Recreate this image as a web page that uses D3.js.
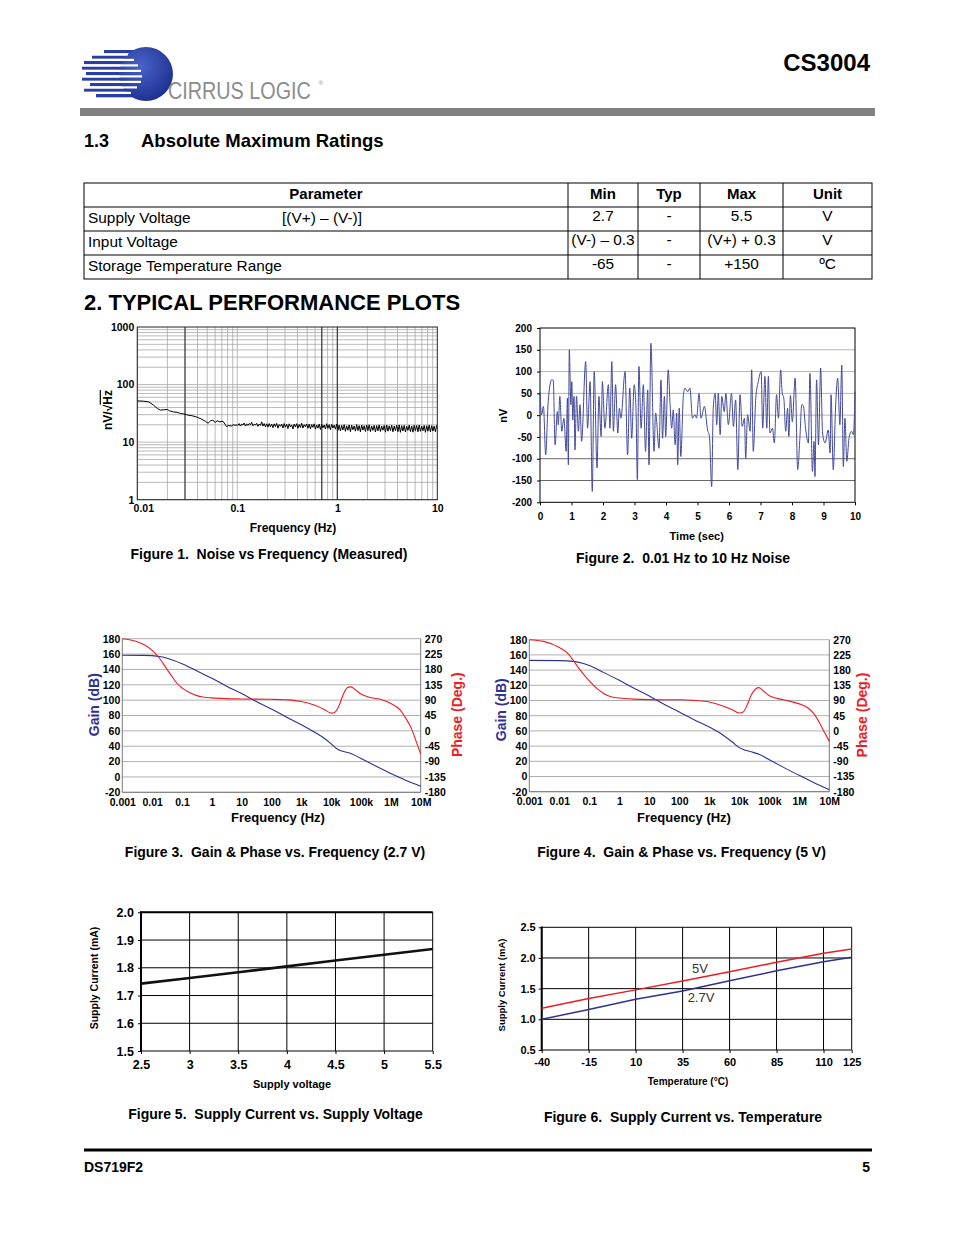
<!DOCTYPE html>
<html><head><meta charset="utf-8">
<script src="https://cdn.jsdelivr.net/npm/d3@7"></script>
<style>
body{margin:0;background:#fff}
svg{display:block}
text{font-family:"Liberation Sans",Arial,Helvetica,sans-serif}
</style>
</head><body>
<svg id="page" width="954" height="1235"></svg>
<script>
// ---------------- DATA ----------------
const tableHeader = ["Parameter","Min","Typ","Max","Unit"];
const tableParams = ["Supply Voltage","Input Voltage","Storage Temperature Range"];
const tableCond   = ["[(V+) – (V-)]","",""];
const tableMin    = ["2.7","(V-) – 0.3","-65"];
const tableTyp    = ["-","-","-"];
const tableMax    = ["5.5","(V+) + 0.3","+150"];
const tableUnit   = ["V","V","ºC"];

// Figure 1: noise density (nV/rtHz) vs frequency
const fig1YTicks = [1,10,100,1000];
const fig1XTicks = [0.01,0.1,1,10];
const fig1XLabels = ["0.01","0.1","1","10"];
const fig1Low = [[0.01,52],[0.0115,51.5],[0.013,50],[0.0145,44],[0.016,38],[0.017,36],[0.0185,36.5],[0.02,37],
  [0.021,35],[0.023,33.5],[0.025,33],[0.027,31.5],[0.029,31],[0.032,29.5],[0.036,28.5],[0.04,27],[0.044,25],
  [0.048,23],[0.051,21.3],[0.054,23.5],[0.057,24],[0.06,22],[0.063,23.5],[0.067,22.5],[0.072,23],[0.076,20],
  [0.078,18.6],[0.082,19.5],[0.087,19],[0.091,20],[0.095,19.6],[0.1,20]];
const fig1Band = [
  19.5,21,19,20.5,19.8,21.5,19,20.8,19.5,21,20,22,19.2,20.5,19.8,21.2,18.8,20.6,19.5,22.5,19,21,18.5,20.8,
  18.2,21,18.5,20.5,17.8,20.8,18.6,21.2,17.5,20.2,18.8,20.6,17.6,21,18.2,20.4,17.2,20.8,18.4,19.9,17,20.6,18.3,20.9,17.4,20.3,18,21.3,17.6,20.1,18.5,20.7,
  17.4,20.5,17,20.2,18.1,20.8,16.8,19.9,17.5,20.6,16.6,20.3,17.8,19.8,16.9,20.9,17.3,20.1,16.4,20.4,17.6,19.7,16.8,20.5,
  16,19.8,15.6,19.5,16.3,20.1,15.4,19.2,16.1,19.9,15.2,19.6,16.4,19.1,15.5,20.2,15.9,19.4,15.1,19.8,16.2,19.3,15.3,19.7,
  15.8,20,15.2,19.1,16,19.6,15,19.4,15.7,19.9,15.3,18.9,16.1,19.5,14.9,19.8,15.5,19.2,15.9,19.7,15.1,19,15.8,19.6,15.2,19.9,
  14.8,19.3,15.6,19.5,15,18.8,16,19.7,15.2,19.1,14.9,19.6,15.7,19.4,15.1,19.8,15.4,18.9,15.8,19.5,14.8,19.2,15.5,19.7,15,19.3,15.6,19,15.2,19.6];

// Figure 2: time-domain noise (sec, nV)
const fig2YTicks = [-200,-150,-100,-50,0,50,100,150,200];
const fig2XTicks = [0,1,2,3,4,5,6,7,8,9,10];
const fig2Noise = [[0,53],[0.05,1],[0.11,20],[0.18,-91],[0.26,31],[0.37,81],[0.42,80],[0.48,-68],[0.55,8],[0.58,-22],
  [0.63,43],[0.69,-37],[0.76,-7],[0.83,-83],[0.87,39],[0.9,-114],[0.93,150],[0.98,24],[1.01,77],[1.04,-11],[1.08,43],
  [1.11,-80],[1.16,43],[1.22,-37],[1.27,24],[1.32,-60],[1.45,123],[1.51,-30],[1.59,77],[1.66,-175],[1.72,100],[1.81,-121],
  [1.87,43],[1.94,-49],[1.98,77],[2.06,-30],[2.17,70],[2.22,-30],[2.28,123],[2.33,-37],[2.4,70],[2.47,-41],[2.52,16],
  [2.57,-7],[2.7,100],[2.78,-91],[2.85,62],[2.91,-53],[2.99,70],[3.05,8],[3.09,-148],[3.14,112],[3.21,-30],[3.28,70],
  [3.35,-83],[3.42,58],[3.46,-114],[3.52,165],[3.62,-83],[3.67,5],[3.78,-76],[3.84,81],[3.89,-53],[3.95,43],[3.99,-49],
  [4.07,104],[4.13,24],[4.18,-30],[4.23,12],[4.29,-68],[4.34,5],[4.37,-114],[4.42,16],[4.47,-95],[4.55,43],[4.6,62],
  [4.69,54],[4.76,62],[4.84,-7],[4.92,1],[4.97,-7],[5.05,50],[5.11,-7],[5.22,20],[5.32,-34],[5.38,-49],[5.45,-164],
  [5.5,16],[5.56,50],[5.61,-22],[5.66,50],[5.72,-45],[5.77,43],[5.85,8],[5.9,50],[5.98,-22],[6.08,50],[6.14,-26],
  [6.21,35],[6.28,-125],[6.35,47],[6.42,-26],[6.49,-7],[6.53,-99],[6.59,1],[6.67,-37],[6.72,104],[6.77,-83],[6.85,39],
  [6.93,77],[7.02,100],[7.07,-30],[7.14,89],[7.2,-30],[7.25,89],[7.3,-41],[7.38,-30],[7.44,-64],[7.51,47],[7.57,-7],
  [7.64,104],[7.69,50],[7.74,39],[7.8,-37],[7.86,16],[7.9,-49],[7.95,45],[8.01,-15],[8.1,85],[8.18,-125],[8.25,-53],
  [8.31,24],[8.36,22],[8.43,-30],[8.52,-64],[8.57,96],[8.65,-129],[8.7,-60],[8.73,-141],[8.78,81],[8.84,-68],[8.91,108],
  [8.97,-41],[9.05,-64],[9.15,-34],[9.21,-87],[9.24,47],[9.31,-125],[9.39,31],[9.45,85],[9.52,-22],[9.58,115],[9.63,-118],
  [9.68,-7],[9.74,-106],[9.81,-53],[9.89,-37],[9.95,-45],[10,54]];

// Figures 3 & 4: Bode plots
const bodeFreqTicks = [0.001,0.01,0.1,1,10,100,1e3,1e4,1e5,1e6,1e7];
const bodeFreqLabels = ["0.001","0.01","0.1","1","10","100","1k","10k","100k","1M","10M"];
const gainTicks = [-20,0,20,40,60,80,100,120,140,160,180];
const phaseTicks = [-180,-135,-90,-45,0,45,90,135,180,225,270];
const gain27 = [[0.001,158.5],[0.005,158.3],[0.01,158],[0.02,156.5],[0.05,152],[0.1,147.5],[0.3,138.5],[1,128.5],
  [3,118.5],[10,108.5],[30,98.5],[100,88.5],[300,78.5],[1000,68],[3000,57.5],[6000,50],[10000,43],[15000,37],
  [20000,34.5],[30000,32.5],[50000,30],[100000,24],[300000,14.5],[1e6,4.5],[3e6,-4],[1e7,-12]];
const phase27 = [[0.001,270],[0.003,262],[0.006,250],[0.01,236],[0.015,220],[0.02,206],[0.03,183],[0.05,155],
  [0.07,138],[0.1,126],[0.2,110],[0.3,104],[0.5,99],[1,96.5],[3,94.5],[10,93.5],[100,92.5],[300,91],[1000,86],
  [3000,74],[6000,62],[10000,52],[13000,54],[18000,72],[25000,105],[35000,127],[45000,129],[70000,118],
  [100000,108],[200000,98],[500000,91],[1e6,80],[2e6,62],[3e6,40],[5e6,5],[7e6,-30],[1e7,-68]];
const gain5 = [[0.001,152.8],[0.01,152.5],[0.03,151.5],[0.06,149],[0.1,146],[0.3,137],[1,126.5],[3,116.5],
  [10,106],[30,95.5],[100,85],[300,75],[1000,65],[3000,54],[6000,45],[10000,38],[15000,35],[25000,32.5],
  [50000,28.5],[100000,22],[300000,12],[1e6,1.5],[3e6,-8],[1e7,-17.5]];
const phase5 = [[0.001,270],[0.003,265],[0.01,247],[0.02,228],[0.03,207],[0.05,180],[0.1,148],[0.2,122],
  [0.3,111],[0.5,102],[1,97.5],[3,94],[10,92.5],[100,92],[300,90.5],[1000,85.5],[3000,73],[6000,62],[10000,53],
  [13000,55],[18000,75],[25000,106],[35000,124],[45000,128],[70000,115],[100000,104],[300000,92],[1e6,80],
  [2e6,67],[3e6,52],[5e6,20],[7e6,-5],[1e7,-31]];

// Figure 5: supply current vs supply voltage
const fig5Volt = [2.5,3,3.5,4,4.5,5,5.5];
const fig5Curr = [1.743,1.763,1.784,1.805,1.826,1.847,1.868];
const fig5YTicks = [1.5,1.6,1.7,1.8,1.9,2.0];

// Figure 6: supply current vs temperature
const fig6Temp = [-40,-15,10,35,60,85,110,125];
const fig6Curr5V = [1.18,1.34,1.48,1.625,1.777,1.93,2.076,2.147];
const fig6Curr27V = [1.0,1.16,1.326,1.46,1.63,1.79,1.94,2.01];
const fig6YTicks = [0.5,1.0,1.5,2.0,2.5];

// ---------------- DRAWING ----------------
const svg = d3.select("#page");
const BLUE = "#2e3192", RED = "#ed1c24";

function txt(x, y, s, o = {}) {
  const t = svg.append("text").attr("x", x).attr("y", y).text(s)
    .attr("font-size", o.size || 12)
    .attr("font-weight", o.bold ? "bold" : "normal")
    .attr("text-anchor", o.anchor || "start")
    .attr("fill", o.fill || "#000");
  if (o.rotate) t.attr("transform", `rotate(-90 ${x} ${y})`).attr("dominant-baseline", "central");
  if (o.family) t.style("font-family", o.family);
  return t;
}

// ---- Header / logo ----
const logo = svg.append("g");
const defs = svg.append("defs");
const grad = defs.append("radialGradient").attr("id","sph").attr("cx","40%").attr("cy","35%").attr("r","70%");
grad.append("stop").attr("offset","0%").attr("stop-color","#4a63c8");
grad.append("stop").attr("offset","100%").attr("stop-color","#1c2f8f");
const cx = 146, cy = 74, r = 27;
const stripeStarts = [104, 92, 84, 82, 86, 82, 90, 84, 96];
stripeStarts.forEach((s, i) => {
  const y = 50 + i * 5.5;
  logo.append("rect").attr("x", s).attr("y", y).attr("width", cx - s).attr("height", 3.3).attr("fill", "#2a3fa6");
});
logo.append("circle").attr("cx", cx).attr("cy", cy).attr("r", r).attr("fill", "url(#sph)");
const gapEnds = [128, 134, 138, 141, 142, 141, 137, 131];
gapEnds.forEach((e, i) => {
  const y = 53.3 + i * 5.5;
  logo.append("rect").attr("x", 80).attr("y", y).attr("width", e - 80).attr("height", 2.2).attr("fill", "#fff");
});
svg.append("text").attr("x", 0).attr("y", 0).attr("transform", "translate(168,99) scale(0.86,1)")
  .attr("font-size", 23).attr("fill", "#8c8c8c").text("CIRRUS LOGIC");
txt(318.5, 85, "®", {size: 6, fill: "#8c8c8c"});
txt(870, 71, "CS3004", {size: 24, bold: true, anchor: "end"});
svg.append("rect").attr("x", 80).attr("y", 108).attr("width", 795).attr("height", 8).attr("fill", "#808080");

// ---- Section 1.3 ----
txt(84, 147, "1.3", {size: 18, bold: true});
txt(141, 147, "Absolute Maximum Ratings", {size: 18.5, bold: true});

// ---- Table ----
const colX = [84, 568, 638, 700, 783, 872];
const rowY = [183, 207, 231, 255, 279];
const tb = svg.append("g");
tb.append("rect").attr("x", colX[0]).attr("y", rowY[0]).attr("width", colX[5]-colX[0]).attr("height", rowY[4]-rowY[0])
  .attr("fill", "none").attr("stroke", "#000").attr("stroke-width", 1);
colX.slice(1, 5).forEach(x => tb.append("line").attr("x1", x).attr("x2", x).attr("y1", rowY[0]).attr("y2", rowY[4]).attr("stroke", "#000"));
rowY.slice(1, 4).forEach(y => tb.append("line").attr("x1", colX[0]).attr("x2", colX[5]).attr("y1", y).attr("y2", y).attr("stroke", "#000"));
tableHeader.forEach((h, i) => txt((colX[i] + colX[i+1]) / 2, 199, h, {size: 15, bold: true, anchor: "middle"}));
const cols = [tableMin, tableTyp, tableMax, tableUnit];
tableParams.forEach((p, r) => {
  const by = rowY[r+1] + 16;
  txt(88, by, p, {size: 15.4});
  if (tableCond[r]) txt(282, by, tableCond[r], {size: 15.4});
  cols.forEach((c, j) => txt((colX[j+1] + colX[j+2]) / 2, by - 2, c[r], {size: 15.4, anchor: "middle"}));
});

// ---- Section 2 ----
txt(84, 310, "2. TYPICAL PERFORMANCE PLOTS", {size: 22, bold: true});

function styleAxis(g, size) {
  g.select(".domain").remove();
  g.selectAll("text").attr("font-size", size).attr("font-weight", "bold").attr("fill", "#000")
    .style("font-family", "'Liberation Sans',Arial,sans-serif");
  g.selectAll(".tick line").attr("stroke", "#000");
}
const SP = "\u00a0 ";

// ---- Figure 1 ----
(function () {
  const x = d3.scaleLog().domain([0.01, 10]).range([137.3, 437.3]);
  const y = d3.scaleLog().domain([1, 1000]).range([499.7, 327]);
  const g = svg.append("g");
  const vMinor = [], hMinor = [];
  [0.01, 0.1, 1].forEach(d => d3.range(1, 10).forEach(k => vMinor.push(d * k)));
  [1, 10, 100].forEach(d => d3.range(1, 10).forEach(k => hMinor.push(d * k)));
  g.selectAll(".hm").data(hMinor).join("line").attr("x1", x.range()[0]).attr("x2", x.range()[1])
    .attr("y1", d => y(d)).attr("y2", d => y(d)).attr("stroke", "#a8a8a8").attr("stroke-width", 0.8);
  g.selectAll(".vm").data(vMinor).join("line").attr("y1", y.range()[0]).attr("y2", y.range()[1])
    .attr("x1", d => x(d)).attr("x2", d => x(d)).attr("stroke", "#a8a8a8").attr("stroke-width", 0.8);
  g.selectAll(".vd").data([0.03, 0.7, 1]).join("line").attr("y1", y.range()[0]).attr("y2", y.range()[1])
    .attr("x1", d => x(d)).attr("x2", d => x(d)).attr("stroke", "#222").attr("stroke-width", 1);
  g.append("rect").attr("x", 137.3).attr("y", 327).attr("width", 300).attr("height", 172.7)
    .attr("fill", "none").attr("stroke", "#222").attr("stroke-width", 1);
  const bandF = fig1Band.map((_, i) => 0.1 * Math.pow(100, (i + 0.5) / fig1Band.length));
  const pts = fig1Low.concat(fig1Band.map((v, i) => [bandF[i], v]));
  g.append("path").datum(pts).attr("fill", "none").attr("stroke", "#000").attr("stroke-width", 1)
    .attr("d", d3.line().x(d => x(d[0])).y(d => y(d[1])));
  const ya = g.append("g").attr("transform", "translate(137.3,0)")
    .call(d3.axisLeft(y).tickValues(fig1YTicks).tickFormat(d3.format("d")).tickSize(0).tickPadding(3));
  styleAxis(ya, 10.5);
  const xa = g.append("g").attr("transform", "translate(0,499.7)")
    .call(d3.axisBottom(x).tickValues(fig1XTicks).tickFormat((d, i) => fig1XLabels[i]).tickSize(0).tickPadding(5));
  styleAxis(xa, 10.5);
  xa.selectAll(".tick text").attr("dx", (d, i) => i === 0 ? 6 : 0);
  txt(293, 532, "Frequency (Hz)", {size: 12, bold: true, anchor: "middle"});
  const yl = txt(107.7, 410, "", {size: 12, bold: true, anchor: "middle", rotate: true});
  yl.append("tspan").text("nV/√");
  yl.append("tspan").text("Hz").style("text-decoration", "overline");
  txt(269, 559, "Figure 1." + SP + "Noise vs Frequency (Measured)", {size: 14, bold: true, anchor: "middle"});
})();

// ---- Figure 2 ----
(function () {
  const x = d3.scaleLinear().domain([0, 10]).range([540, 855]);
  const y = d3.scaleLinear().domain([-200, 200]).range([502.3, 328]);
  const g = svg.append("g");
  g.selectAll(".hg").data(fig2YTicks.slice(1, -1)).join("line")
    .attr("x1", 540).attr("x2", 855).attr("y1", d => y(d)).attr("y2", d => y(d))
    .attr("stroke", d => d <= -100 ? "#6a6a6a" : "#b4b4b4").attr("stroke-width", 1);
  g.append("rect").attr("x", 540).attr("y", 328).attr("width", 315).attr("height", 174.3)
    .attr("fill", "none").attr("stroke", "#000").attr("stroke-width", 1);
  g.append("path").datum(fig2Noise).attr("fill", "none").attr("stroke", "#434a9a").attr("stroke-width", 1)
    .attr("d", d3.line().x(d => x(d[0])).y(d => y(d[1])).curve(d3.curveMonotoneX));
  const ya = g.append("g").attr("transform", "translate(540,0)")
    .call(d3.axisLeft(y).tickValues(fig2YTicks).tickFormat(d => String(d)).tickSize(3).tickPadding(5));
  styleAxis(ya, 10);
  const xa = g.append("g").attr("transform", "translate(0,502.3)")
    .call(d3.axisBottom(x).tickValues(fig2XTicks).tickFormat(d => String(d)).tickSize(3).tickPadding(8));
  styleAxis(xa, 10);
  txt(503, 415.7, "nV", {size: 11, bold: true, anchor: "middle", rotate: true});
  txt(696.7, 540, "Time (sec)", {size: 11, bold: true, anchor: "middle"});
  txt(683, 563, "Figure 2." + SP + "0.01 Hz to 10 Hz Noise", {size: 14, bold: true, anchor: "middle"});
})();

// ---- Figures 3 & 4 ----
function bode(c) {
  const x = d3.scaleLog().domain([0.001, 1e7]).range([c.x0, c.x1]);
  const yg = d3.scaleLinear().domain([-20, 180]).range([c.y1, c.y0]);
  const yp = d3.scaleLinear().domain([-180, 270]).range([c.y1, c.y0]);
  const g = svg.append("g");
  g.selectAll(".hg").data(gainTicks).join("line").attr("x1", c.x0).attr("x2", c.x1)
    .attr("y1", d => yg(d)).attr("y2", d => yg(d)).attr("stroke", "#b0b0b0").attr("stroke-width", 1);
  [c.x0, c.x1].forEach(xx => g.append("line").attr("x1", xx).attr("x2", xx).attr("y1", c.y0).attr("y2", c.y1)
    .attr("stroke", "#7a7a7a").attr("stroke-width", 1));
  g.append("line").attr("x1", c.x0).attr("x2", c.x1).attr("y1", c.y1).attr("y2", c.y1).attr("stroke", "#7a7a7a");
  g.append("path").datum(c.gain).attr("fill", "none").attr("stroke", BLUE).attr("stroke-width", 1.1)
    .attr("d", d3.line().x(d => x(d[0])).y(d => yg(d[1])).curve(d3.curveMonotoneX));
  g.append("path").datum(c.phase).attr("fill", "none").attr("stroke", RED).attr("stroke-width", 1.1)
    .attr("d", d3.line().x(d => x(d[0])).y(d => yp(d[1])).curve(d3.curveMonotoneX));
  const la = g.append("g").attr("transform", `translate(${c.x0},0)`)
    .call(d3.axisLeft(yg).tickValues(gainTicks).tickFormat(d => String(d)).tickSize(0).tickPadding(2));
  styleAxis(la, 10.5);
  const ra = g.append("g").attr("transform", `translate(${c.x1},0)`)
    .call(d3.axisRight(yp).tickValues(phaseTicks).tickFormat(d => String(d)).tickSize(0).tickPadding(4));
  styleAxis(ra, 10.5);
  const xa = g.append("g").attr("transform", `translate(0,${c.y1})`)
    .call(d3.axisBottom(x).tickValues(bodeFreqTicks).tickFormat((d, i) => bodeFreqLabels[i]).tickSize(0).tickPadding(6));
  styleAxis(xa, 10.5);
  txt(c.fx, c.fy, "Frequency (Hz)", {size: 13, bold: true, anchor: "middle"});
  txt(c.gx, c.gy, "Gain (dB)", {size: 14, bold: true, anchor: "middle", rotate: true, fill: BLUE});
  txt(c.px, c.py, "Phase (Deg.)", {size: 14, bold: true, anchor: "middle", rotate: true, fill: RED});
  txt(c.capX, 857, c.caption, {size: 14, bold: true, anchor: "middle"});
}
bode({x0: 122.3, x1: 420.7, y0: 638.7, y1: 792.3, gain: gain27, phase: phase27,
  fx: 278, fy: 821.5, gx: 94.3, gy: 704.7, px: 456.7, py: 714.7, capX: 275,
  caption: "Figure 3." + SP + "Gain & Phase vs. Frequency (2.7 V)"});
bode({x0: 529.3, x1: 829.3, y0: 639.7, y1: 791.7, gain: gain5, phase: phase5,
  fx: 684, fy: 821.5, gx: 500.7, gy: 709.7, px: 861.7, py: 715, capX: 681.5,
  caption: "Figure 4." + SP + "Gain & Phase vs. Frequency (5 V)"});

// ---- Figure 5 ----
(function () {
  const x = d3.scaleLinear().domain([2.5, 5.5]).range([141, 432.7]);
  const y = d3.scaleLinear().domain([1.5, 2.0]).range([1051, 912.3]);
  const g = svg.append("g");
  g.selectAll(".hg").data(fig5YTicks).join("line").attr("x1", 141).attr("x2", 432.7)
    .attr("y1", d => y(d)).attr("y2", d => y(d)).attr("stroke", "#000").attr("stroke-width", 1);
  g.selectAll(".vg").data(fig5Volt).join("line").attr("y1", 912.3).attr("y2", 1051)
    .attr("x1", d => x(d)).attr("x2", d => x(d)).attr("stroke", "#000").attr("stroke-width", 1);
  g.append("line").attr("x1", 141).attr("x2", 141).attr("y1", 911.5).attr("y2", 1051.5).attr("stroke", "#000").attr("stroke-width", 2);
  g.append("line").attr("x1", 140).attr("x2", 432.7).attr("y1", 912.3).attr("y2", 912.3).attr("stroke", "#000").attr("stroke-width", 2);
  g.append("path").datum(d3.zip(fig5Volt, fig5Curr)).attr("fill", "none").attr("stroke", "#111").attr("stroke-width", 2.6)
    .attr("d", d3.line().x(d => x(d[0])).y(d => y(d[1])));
  const ya = g.append("g").attr("transform", "translate(141,0)")
    .call(d3.axisLeft(y).tickValues(fig5YTicks).tickFormat(d3.format(".1f")).tickSize(3).tickPadding(4));
  styleAxis(ya, 12.5);
  const xa = g.append("g").attr("transform", "translate(0,1051)")
    .call(d3.axisBottom(x).tickValues(fig5Volt).tickFormat(d => String(d)).tickSize(3).tickPadding(6));
  styleAxis(xa, 12.5);
  txt(292, 1088, "Supply voltage", {size: 11, bold: true, anchor: "middle"});
  txt(94, 978, "Supply Current (mA)", {size: 10.5, bold: true, anchor: "middle", rotate: true});
  txt(275.5, 1119, "Figure 5." + SP + "Supply Current vs. Supply Voltage", {size: 14, bold: true, anchor: "middle"});
})();

// ---- Figure 6 ----
(function () {
  const x = d3.scaleLinear().domain([-40, 125]).range([541.7, 851.7]);
  const y = d3.scaleLinear().domain([0.5, 2.5]).range([1050, 927.3]);
  const g = svg.append("g");
  g.selectAll(".hg").data(fig6YTicks).join("line").attr("x1", 541.7).attr("x2", 851.7)
    .attr("y1", d => y(d)).attr("y2", d => y(d)).attr("stroke", "#000").attr("stroke-width", 1);
  g.selectAll(".vg").data(fig6Temp).join("line").attr("y1", 927.3).attr("y2", 1050)
    .attr("x1", d => x(d)).attr("x2", d => x(d)).attr("stroke", "#000").attr("stroke-width", 1);
  g.append("line").attr("x1", 541.7).attr("x2", 541.7).attr("y1", 926.5).attr("y2", 1050.5).attr("stroke", "#000").attr("stroke-width", 2);
  g.append("path").datum(d3.zip(fig6Temp, fig6Curr5V)).attr("fill", "none").attr("stroke", RED).attr("stroke-width", 1.5)
    .attr("d", d3.line().x(d => x(d[0])).y(d => y(d[1])));
  g.append("path").datum(d3.zip(fig6Temp, fig6Curr27V)).attr("fill", "none").attr("stroke", BLUE).attr("stroke-width", 1.5)
    .attr("d", d3.line().x(d => x(d[0])).y(d => y(d[1])));
  const ya = g.append("g").attr("transform", "translate(541.7,0)")
    .call(d3.axisLeft(y).tickValues(fig6YTicks).tickFormat(d3.format(".1f")).tickSize(3).tickPadding(3));
  styleAxis(ya, 11);
  const xa = g.append("g").attr("transform", "translate(0,1050)")
    .call(d3.axisBottom(x).tickValues(fig6Temp).tickFormat(d => String(d)).tickSize(3).tickPadding(5));
  styleAxis(xa, 11);
  txt(700, 972.5, "5V", {size: 13, anchor: "middle", fill: "#333"});
  txt(701, 1002, "2.7V", {size: 13, anchor: "middle", fill: "#333"});
  txt(688, 1084.5, "Temperature (°C)", {size: 10, bold: true, anchor: "middle"});
  txt(501, 985, "Supply Current (mA)", {size: 9.5, bold: true, anchor: "middle", rotate: true});
  txt(683, 1122, "Figure 6." + SP + "Supply Current vs. Temperature", {size: 14, bold: true, anchor: "middle"});
})();

// ---- Footer ----
svg.append("rect").attr("x", 84).attr("y", 1148.5).attr("width", 788).attr("height", 3).attr("fill", "#000");
txt(84, 1172, "DS719F2", {size: 14, bold: true});
txt(870, 1172, "5", {size: 14, bold: true, anchor: "end"});
</script>
</body></html>
